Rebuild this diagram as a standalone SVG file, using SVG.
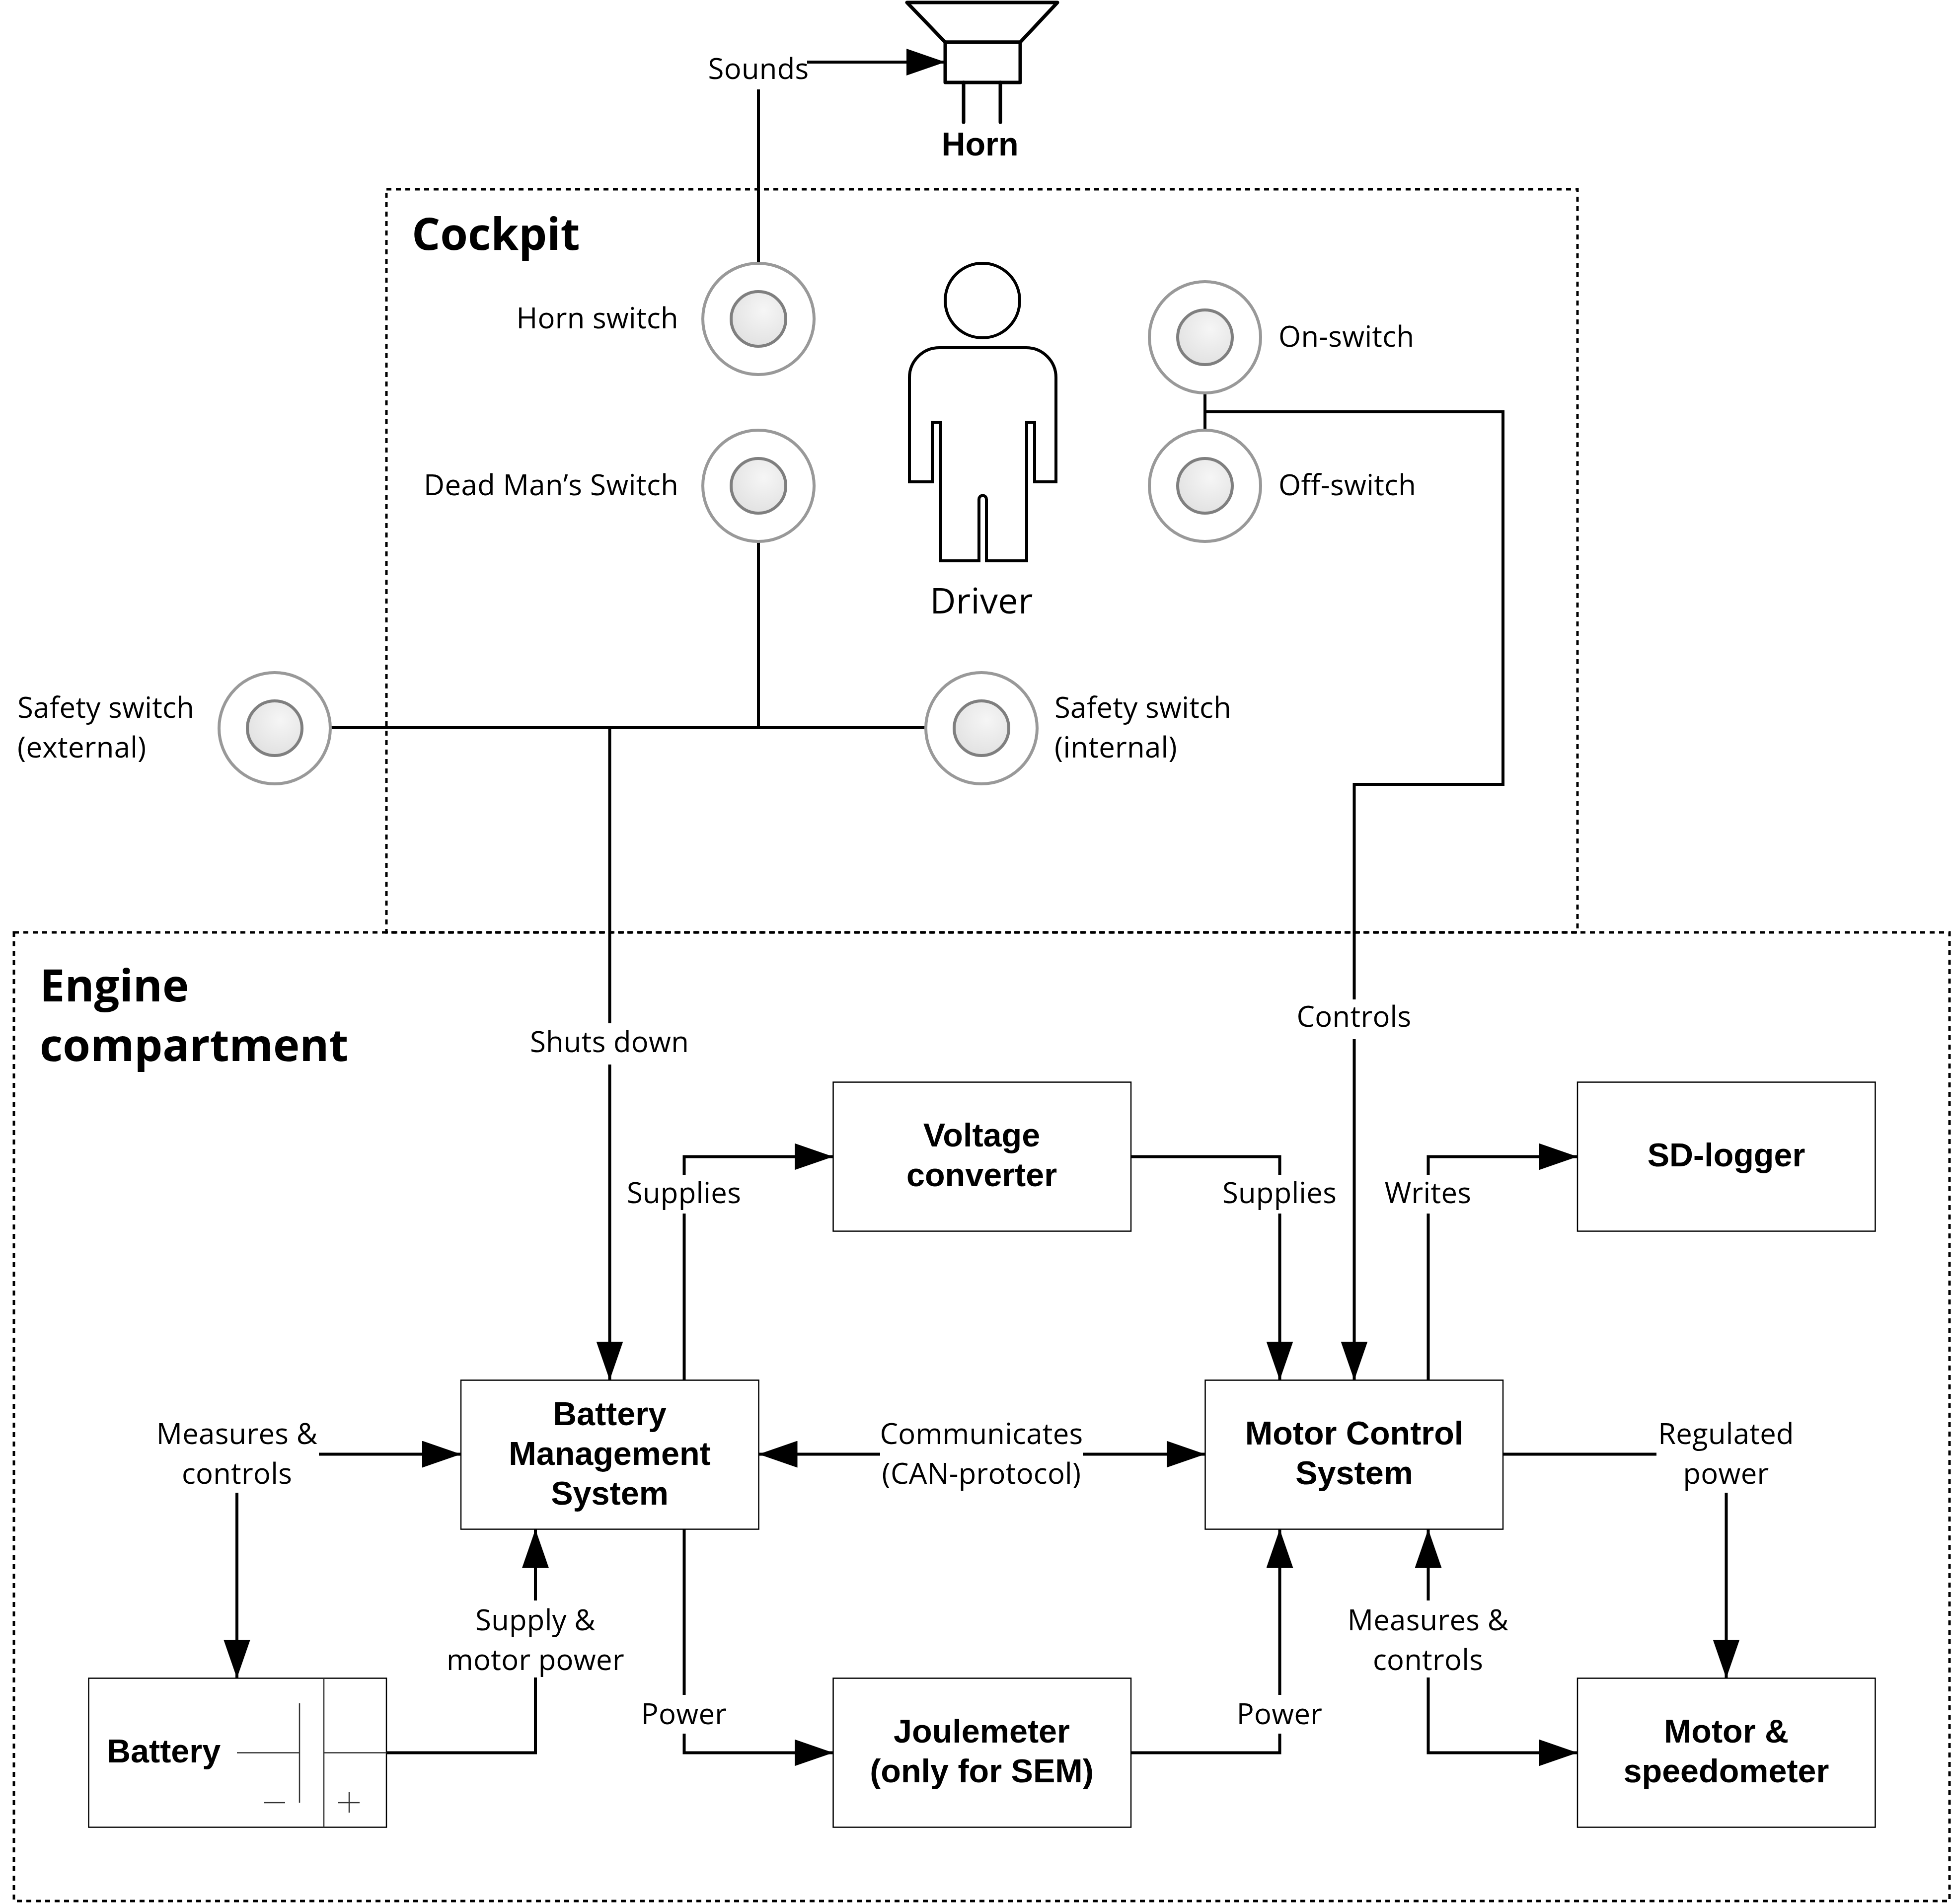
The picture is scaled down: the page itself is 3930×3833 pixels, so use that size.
<svg xmlns="http://www.w3.org/2000/svg" width="3930" height="3833" viewBox="0 0 3930 3833">
<style>
text{font-family:"Open Sans","Noto Sans",sans-serif;font-size:58px;letter-spacing:.3px;fill:#000}
.m{text-anchor:middle}.e{text-anchor:end}
.b{font-family:"Liberation Sans",Arial,sans-serif;font-weight:700;font-size:66.500px;letter-spacing:0;text-anchor:middle}
.t{font-weight:700;font-size:90px;letter-spacing:0}
.box{fill:#fff;stroke:#000;stroke-width:2.500}
.zone{fill:none;stroke:#000;stroke-width:5;stroke-dasharray:10 9}
.c{fill:none;stroke:#000;stroke-width:6;stroke-linejoin:miter;stroke-linecap:round}
.thin{fill:none;stroke:#333;stroke-width:2.500}
.sym{fill:#fff;stroke:#000;stroke-width:7;stroke-linejoin:round;stroke-linecap:round}
.o{fill:#fff;stroke:#999;stroke-width:6}
.i{fill:url(#g);stroke:#7f7f7f;stroke-width:6}
.bg{fill:#fff}
</style>
<defs>
<radialGradient id="g" cx="0.6" cy="0.35" r="0.8"><stop offset="0" stop-color="#f6f6f6"/><stop offset="1" stop-color="#dedede"/></radialGradient>
<marker id="a" markerUnits="userSpaceOnUse" markerWidth="80" markerHeight="54" refX="78" refY="27" orient="auto-start-reverse"><path d="M0 0L78 27L0 54Z" fill="#000"/></marker>
</defs>
<rect width="3930" height="3833" fill="#fff"/>
<g id="zones">
<rect id="cockpit" class="zone" x="778" y="381" width="2398" height="1496"/>
<rect id="engine" class="zone" x="28" y="1877" width="3897" height="1950"/>
<text class="t" x="829" y="503">Cockpit</text>
<text class="t" x="80" y="2016">Engine</text>
<text class="t" x="80" y="2136">compartment</text>
</g>
<g id="connectors">
<path class="c" marker-end="url(#a)" d="M1527 530V125H1903"/>
<path class="c" d="M665 1465H1865M1527 1090V1465"/>
<path class="c" marker-end="url(#a)" d="M1227.500 1465V2778.500"/>
<path class="c" d="M2426 792V866"/>
<path class="c" marker-end="url(#a)" d="M2426 829H3026V1579H2726.500V2778.500"/>
<path class="c" marker-end="url(#a)" d="M1377.500 2778.500V2328.500H1677.500"/>
<path class="c" marker-end="url(#a)" d="M2277 2328.500H2576.500V2778.500"/>
<path class="c" marker-end="url(#a)" d="M2875.500 2778.500V2328.500H3176"/>
<path class="c" marker-start="url(#a)" marker-end="url(#a)" d="M1527.500 2927.500H2426.500"/>
<path class="c" marker-end="url(#a)" d="M477 2927.500H928"/>
<path class="c" marker-end="url(#a)" d="M477 2927.500V3378.500"/>
<path class="c" marker-end="url(#a)" d="M778 3528.500H1078V3078.500"/>
<path class="c" marker-end="url(#a)" d="M1377.500 3078.500V3528.500H1677.500"/>
<path class="c" marker-end="url(#a)" d="M2277 3528.500H2576.500V3078.500"/>
<path class="c" marker-start="url(#a)" marker-end="url(#a)" d="M2875.500 3078.500V3528.500H3176"/>
<path class="c" marker-end="url(#a)" d="M3026 2927.500H3475.500V3378.500"/>
</g>
<g id="connector-labels">
<rect class="bg" x="1427" y="100" width="198" height="80"/><text class="m" x="1527" y="159">Sounds</text>
<rect class="bg" x="1060" y="2060" width="334" height="83"/><text class="m" x="1227" y="2118">Shuts down</text>
<rect class="bg" x="2610" y="2012" width="232" height="80"/><text class="m" x="2726" y="2067">Controls</text>
<rect class="bg" x="1260" y="2365" width="234" height="78"/><text class="m" x="1377" y="2422">Supplies</text>
<rect class="bg" x="2459" y="2365" width="234" height="78"/><text class="m" x="2576" y="2422">Supplies</text>
<rect class="bg" x="2785" y="2365" width="180" height="78"/><text class="m" x="2875" y="2422">Writes</text>
<rect class="bg" x="1772" y="2850" width="408" height="155"/><text class="m" x="1976" y="2907">Communicates</text><text class="m" x="1976" y="2987">(CAN-protocol)</text>
<rect class="bg" x="312" y="2850" width="330" height="155"/><text class="m" x="477" y="2907">Measures &amp;</text><text class="m" x="477" y="2987">controls</text>
<rect class="bg" x="893" y="3222" width="370" height="155"/><text class="m" x="1078" y="3282">Supply &amp;</text><text class="m" x="1078" y="3362">motor power</text>
<rect class="bg" x="1287" y="3412" width="180" height="78"/><text class="m" x="1377" y="3471">Power</text>
<rect class="bg" x="2486" y="3412" width="180" height="78"/><text class="m" x="2576" y="3471">Power</text>
<rect class="bg" x="2710" y="3222" width="330" height="155"/><text class="m" x="2875" y="3282">Measures &amp;</text><text class="m" x="2875" y="3362">controls</text>
<rect class="bg" x="3335" y="2850" width="280" height="155"/><text class="m" x="3475" y="2907">Regulated</text><text class="m" x="3475" y="2987">power</text>
</g>
<g id="horn">
<path class="sym" d="M1826 5H2129L2054 85H1903Z" fill="none"/>
<rect class="sym" x="1903" y="85" width="151" height="81"/>
<path class="sym" d="M1940 166V246M2014 166V246"/>
<text class="b" x="1973" y="313">Horn</text>
</g>
<g id="driver">
<circle cx="1978" cy="605" r="75" fill="#fff" stroke="#000" stroke-width="6"/>
<path fill="#fff" stroke="#000" stroke-width="6" d="M1891 700H2066A60 60 0 0 1 2126 760V970H2083V850H2067V1129H1986V1005A7.500 7.500 0 0 0 1971 1005V1129H1894V850H1877V970H1831V760A60 60 0 0 1 1891 700Z"/>
<text class="m" style="font-size:72px" x="1976" y="1235">Driver</text>
</g>
<g id="horn-switch"><circle class="o" cx="1527" cy="642" r="112"/><circle class="i" cx="1527" cy="642" r="55"/><text class="e" x="1366" y="661">Horn switch</text></g>
<g id="dead-mans-switch"><circle class="o" cx="1527" cy="978" r="112"/><circle class="i" cx="1527" cy="978" r="55"/><text class="e" x="1366" y="997" textLength="513">Dead Man’s Switch</text></g>
<g id="on-switch"><circle class="o" cx="2426" cy="679" r="112"/><circle class="i" cx="2426" cy="679" r="55"/><text x="2574" y="698">On-switch</text></g>
<g id="off-switch"><circle class="o" cx="2426" cy="978" r="112"/><circle class="i" cx="2426" cy="978" r="55"/><text x="2574" y="997">Off-switch</text></g>
<g id="safety-external"><circle class="o" cx="553" cy="1466" r="112"/><circle class="i" cx="553" cy="1466" r="55"/><text x="35" y="1445">Safety switch</text><text x="35" y="1525">(external)</text></g>
<g id="safety-internal"><circle class="o" cx="1976" cy="1466" r="112"/><circle class="i" cx="1976" cy="1466" r="55"/><text x="2123" y="1445">Safety switch</text><text x="2123" y="1525">(internal)</text></g>
<g id="voltage-converter"><rect class="box" x="1677.500" y="2178.500" width="599.500" height="300"/><text class="b" x="1976.500" y="2308">Voltage</text><text class="b" x="1976.500" y="2388">converter</text></g>
<g id="sd-logger"><rect class="box" x="3176" y="2178.500" width="599.500" height="300"/><text class="b" x="3475.500" y="2348">SD-logger</text></g>
<g id="bms"><rect class="box" x="928" y="2778.500" width="599.500" height="300"/><text class="b" x="1227.500" y="2869">Battery</text><text class="b" x="1227.500" y="2949">Management</text><text class="b" x="1227.500" y="3029">System</text></g>
<g id="mcs"><rect class="box" x="2426.500" y="2778.500" width="599.500" height="300"/><text class="b" x="2726.500" y="2908">Motor Control</text><text class="b" x="2726.500" y="2988">System</text></g>
<g id="battery"><rect class="box" x="178.500" y="3378.500" width="599.500" height="300"/><path class="thin" d="M652 3378.500V3678.500M477 3528.500H603M603 3429V3629M652 3528.500H778M532 3629H574M681 3629H724M703 3608V3649"/><text class="b" x="215" y="3548" style="text-anchor:start">Battery</text></g>
<g id="joulemeter"><rect class="box" x="1677.500" y="3378.500" width="599.500" height="300"/><text class="b" x="1976.500" y="3508">Joulemeter</text><text class="b" x="1976.500" y="3588">(only for SEM)</text></g>
<g id="motor"><rect class="box" x="3176" y="3378.500" width="599.500" height="300"/><text class="b" x="3475.500" y="3508">Motor &amp;</text><text class="b" x="3475.500" y="3588">speedometer</text></g>
</svg>
